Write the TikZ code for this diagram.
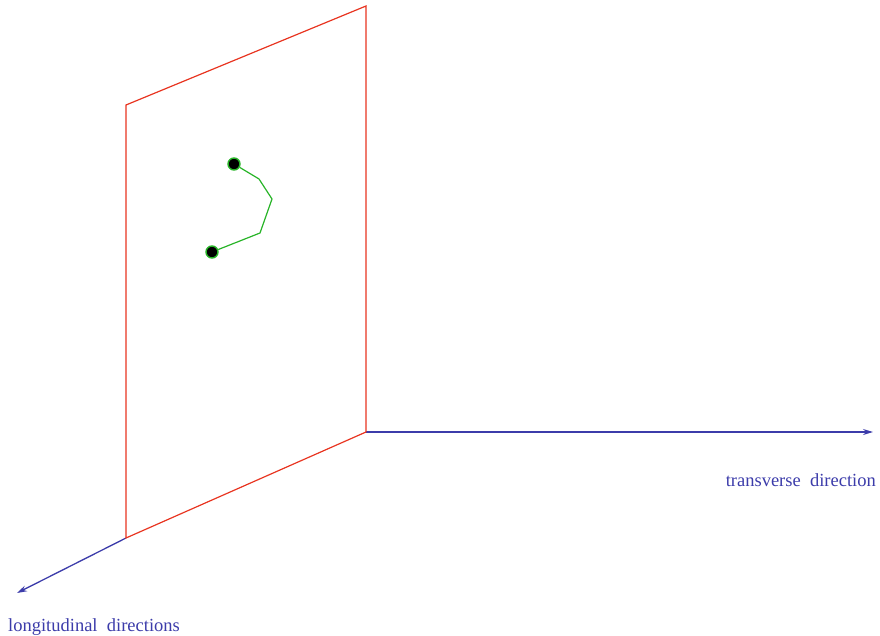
\documentclass[tikz,border=0pt]{standalone}
\usepackage{fontspec}
\setmainfont{Liberation Serif}
\usepackage{xcolor}
\usetikzlibrary{arrows.meta,positioning}
\definecolor{axisblue}{RGB}{60,60,170}
\definecolor{planered}{RGB}{232,52,32}
\definecolor{chaingreen}{RGB}{40,180,40}

\begin{document}
\begin{tikzpicture}[
    x=1pt, y=-1pt,
    axis/.style={-{Stealth[length=10pt,width=6pt]}, axisblue, line width=1.3pt},
    plane/.style={planered, line width=1.2pt},
    chain/.style={chaingreen, line width=1.2pt},
    bead/.style={circle, draw=chaingreen, fill=black, line width=1.4pt,
        inner sep=0pt, minimum size=12pt},
    lbl/.style={text=axisblue, font=\fontsize{18.5}{20}\selectfont},
]
\useasboundingbox (0,0) rectangle (880,636);

% Plane corners
\coordinate (o) at (366,432);
\coordinate (front) at (126,538);
\coordinate (fronttop) at (126,105);
\coordinate (backtop) at (366,6);

% Axis ends
\coordinate (xend) at (873,432);
\coordinate (zend) at (17,593);

% Axes
\draw[axis] (o) -- (xend);
\draw[axis] (front) -- (zend);

% Plane
\draw[plane] (o) -- (front) -- (fronttop) -- (backtop) -- (o);

% Chain
\node[bead] (b1) at (234,164) {};
\node[bead] (b2) at (212,252) {};
\coordinate (k1) at (259,179);
\coordinate (k2) at (272,199);
\coordinate (k3) at (260,233);
\draw[chain] (b1) -- (k1) -- (k2) -- (k3) -- (b2);

% Labels
\node[lbl, anchor=base east, inner sep=0pt] (tlabel) at (876,486) {transverse\ \ direction};
\node[lbl, anchor=base west, inner sep=0pt] (llabel) at (8,631) {longitudinal\ \ directions};
\end{tikzpicture}
\end{document}
